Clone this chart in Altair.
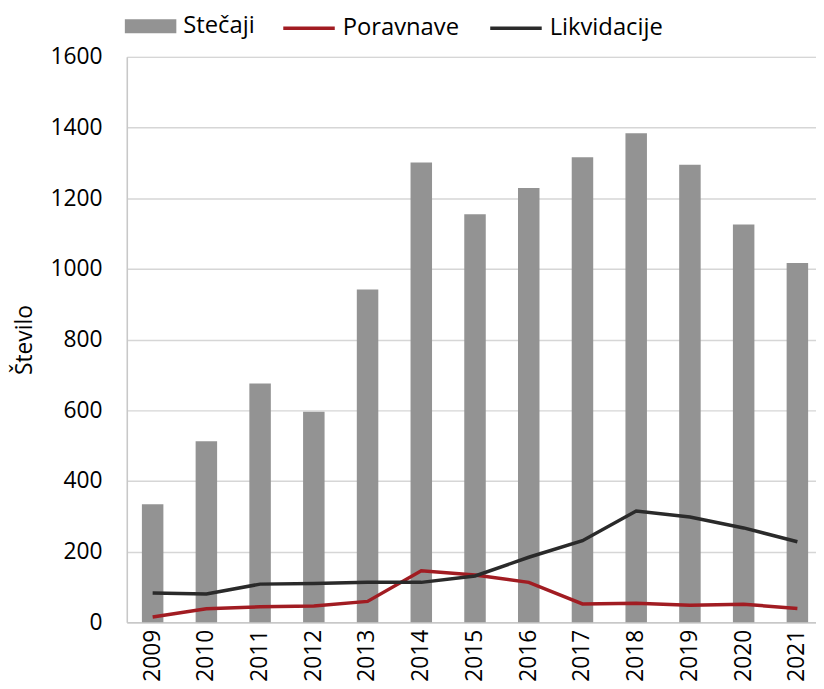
import altair as alt
import pandas as pd

years = [str(y) for y in range(2009, 2022)]
stecaji = [334, 512, 676, 596, 942, 1301, 1155, 1229, 1316, 1384, 1295, 1126, 1017]
poravnave = [15, 38, 44, 46, 59, 146, 134, 113, 52, 54, 48, 51, 39]
likvidacije = [83, 80, 108, 110, 113, 113, 131, 184, 231, 315, 298, 267, 228]
y_ticks = [0, 200, 400, 600, 800, 1000, 1200, 1400, 1600]

bar_name = "Stečaji"
line_names = ["Poravnave", "Likvidacije"]

bars_df = pd.DataFrame({"Leto": years, "Število": stecaji, "S1": bar_name})
lines_df = pd.DataFrame({
    "Leto": years * 2,
    "Število": poravnave + likvidacije,
    "S2": [line_names[0]] * len(years) + [line_names[1]] * len(years),
})

FONT = "Open Sans"

xscale = alt.Scale(domain=years, paddingInner=0.6, paddingOuter=0.2135, align=0.657)
yscale = alt.Scale(domain=[0, 1600], nice=False)

x = alt.X(
    "Leto:N", scale=xscale, sort=years,
    axis=alt.Axis(title=None, labelAngle=-90, ticks=False, labelPadding=7, grid=False,
                  domainColor="#c8c8c8", domainWidth=1.5, labelFontSize=23,
                  labelColor="#000000", labelFont=FONT),
)
y = alt.Y(
    "Število:Q", scale=yscale,
    axis=alt.Axis(title="Število", values=y_ticks, format="d", ticks=False, labelPadding=25,
                  grid=True, gridColor="#d6d6d6", gridWidth=1.5, domainColor="#c8c8c8",
                  domainWidth=1.5, titleFontSize=23, titleFontWeight="normal", titlePadding=14,
                  labelFontSize=23, labelColor="#000000", titleColor="#000000",
                  labelFont=FONT, titleFont=FONT),
)

bars = alt.Chart(bars_df).mark_bar().encode(
    x=x, y=y,
    fill=alt.Fill("S1:N", scale=alt.Scale(domain=[bar_name], range=["#939393"]),
                  legend=alt.Legend(orient="none", legendX=11, legendY=-44, title=None,
                                    symbolType="M-2,-0.54H2V0.54H-2Z", symbolSize=676,
                                    symbolStrokeWidth=0, labelFontSize=24, labelFont=FONT,
                                    labelOffset=20, labelColor="#000000", padding=0)),
)

lines = alt.Chart(lines_df).mark_line(strokeWidth=3.5).encode(
    x=x, y=y,
    stroke=alt.Stroke("S2:N", sort=line_names,
                      scale=alt.Scale(domain=line_names, range=["#a11c22", "#2a2a2a"]),
                      legend=alt.Legend(orient="none", legendX=169, legendY=-44, title=None,
                                        direction="horizontal", symbolType="M-2,0H2",
                                        symbolSize=676, symbolStrokeWidth=3.5,
                                        labelFontSize=24, labelFont=FONT, labelOffset=19,
                                        columnPadding=24, labelColor="#000000", padding=0)),
)

chart = alt.layer(bars, lines).properties(
    width=696, height=571,
    autosize=alt.AutoSizeParams(type="none"),
    padding={"left": 120, "top": 46, "right": 0, "bottom": 62},
).configure_view(stroke=None).configure(font=FONT)

chart.save("out.html", embed_options={"renderer": "svg", "actions": False})
